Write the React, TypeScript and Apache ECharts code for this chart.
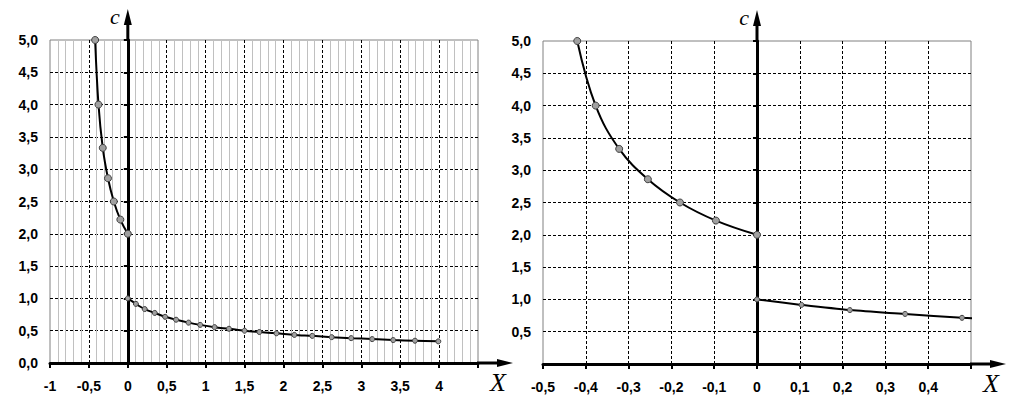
import React, { useEffect, useRef } from 'react';
import * as echarts from 'echarts';

// Left (negative) branch of c(X)
const branchNegX = [-0.42, -0.377, -0.322, -0.255, -0.18, -0.096, 0];
const branchNegC = [5.0, 4.0, 3.33, 2.86, 2.5, 2.22, 2.0];
// Right (positive) branch of c(X)
const branchPosX = [0, 0.104, 0.217, 0.346, 0.479, 0.62, 0.78, 0.93, 1.115, 1.3, 1.5, 1.69, 1.91, 2.14, 2.37, 2.62, 2.87, 3.14, 3.41, 3.69, 3.99];
const branchPosC = [1.0, 0.915, 0.835, 0.775, 0.715, 0.67, 0.625, 0.59, 0.555, 0.53, 0.5, 0.48, 0.46, 0.435, 0.42, 0.4, 0.385, 0.37, 0.355, 0.345, 0.335];

// Tick labels
const leftXLabels = ['-1', '-0,5', '0', '0,5', '1', '1,5', '2', '2,5', '3', '3,5', '4', ''];
const leftYLabels = ['0,0', '0,5', '1,0', '1,5', '2,0', '2,5', '3,0', '3,5', '4,0', '4,5', '5,0'];
const rightXLabels = ['-0,5', '-0,4', '-0,3', '-0,2', '-0,1', '0', '0,1', '0,2', '0,3', '0,4', ''];
const rightYLabels = ['', '0,5', '1,0', '1,5', '2,0', '2,5', '3,0', '3,5', '4,0', '4,5', '5,0'];

const AXIS_TITLE_Y = 'c';
const AXIS_TITLE_X = 'X';

const LABEL_FONT = '"Liberation Sans", Arial, sans-serif';
const TITLE_FONT = '"Liberation Serif", "Times New Roman", serif';

function zip(xs: number[], ys: number[]) {
  return xs.map((x, i) => [x, ys[i]]);
}

export default function App() {
  const ref = useRef<HTMLDivElement>(null);

  useEffect(() => {
    if (!ref.current) return;
    const chart = echarts.init(ref.current, undefined, { renderer: 'svg' });

    const labelStyle = {
      fontFamily: LABEL_FONT,
      fontWeight: 'bold' as const,
      fontSize: 14,
      color: '#000',
    };

    const makeX = (gridIndex: number, min: number, max: number, interval: number, labels: string[], minor: boolean) => ({
      type: 'value',
      gridIndex,
      min,
      max,
      interval,
      axisLine: { show: true, onZero: false, lineStyle: { color: '#000', width: 3 } },
      axisTick: { show: true, length: 5, lineStyle: { color: '#000', width: 2 } },
      axisLabel: { ...labelStyle, margin: 16, formatter: (_v: number, i: number) => labels[i] ?? '' },
      splitLine: { show: true, showMinLine: false, showMaxLine: false, lineStyle: { color: '#000', width: 1, type: [3, 2] } },
      minorTick: { show: false, splitNumber: 5 },
      minorSplitLine: { show: minor, lineStyle: { color: '#c0c0c0', width: 1 } },
    });

    const makeYLabels = (gridIndex: number, labels: string[]) => ({
      type: 'value',
      gridIndex,
      position: 'left',
      min: 0,
      max: 5,
      interval: 0.5,
      axisLine: { show: false, onZero: false },
      axisTick: { show: false },
      axisLabel: { ...labelStyle, margin: 12, formatter: (_v: number, i: number) => labels[i] ?? '' },
      splitLine: { show: true, showMinLine: false, showMaxLine: false, lineStyle: { color: '#000', width: 1, type: [3, 2] } },
    });

    const makeYZero = (gridIndex: number) => ({
      type: 'value',
      gridIndex,
      position: 'left',
      min: 0,
      max: 5,
      interval: 0.5,
      axisLine: { show: true, onZero: true, lineStyle: { color: '#000', width: 3 } },
      axisTick: { show: true, length: 4, lineStyle: { color: '#000', width: 2 } },
      axisLabel: { show: false },
      splitLine: { show: false },
    });

    const bigSym = { symbol: 'circle', symbolSize: 7, itemStyle: { color: '#a0a0a0', borderColor: '#404040', borderWidth: 1 } };
    const smallSym = { symbol: 'circle', symbolSize: 5, itemStyle: { color: '#a0a0a0', borderColor: '#404040', borderWidth: 1 } };
    const lineStyle = { color: '#000', width: 2 };

    const gridBase = { show: true, borderColor: '#808080', borderWidth: 1, backgroundColor: 'transparent', containLabel: false, outerBoundsMode: 'none' };

    chart.setOption({
      animation: false,
      backgroundColor: '#fff',
      grid: [
        { ...gridBase, left: 50, top: 40, width: 428, height: 323 },
        { ...gridBase, left: 543, top: 41, width: 428, height: 323 },
      ],
      xAxis: [
        makeX(0, -1, 4.5, 0.5, leftXLabels, true),
        makeX(1, -0.5, 0.5, 0.1, rightXLabels, false),
      ],
      yAxis: [
        makeYLabels(0, leftYLabels),
        makeYZero(0),
        makeYLabels(1, rightYLabels),
        makeYZero(1),
      ],
      series: [
        { type: 'line', xAxisIndex: 0, yAxisIndex: 0, data: zip(branchNegX, branchNegC), smooth: 0.4, lineStyle, ...bigSym, z: 5 },
        { type: 'line', xAxisIndex: 0, yAxisIndex: 0, data: zip(branchPosX, branchPosC), smooth: 0.3, lineStyle, ...smallSym, z: 5 },
        { type: 'line', xAxisIndex: 1, yAxisIndex: 2, data: zip(branchNegX, branchNegC), smooth: 0.4, lineStyle, ...bigSym, z: 5 },
        { type: 'line', xAxisIndex: 1, yAxisIndex: 2, data: zip(branchPosX, branchPosC), smooth: 0.3, lineStyle, ...smallSym, z: 5 },
      ],
    });

    const decor = (xi: number, yi: number, xMax: number) => {
      const top = chart.convertToPixel({ xAxisIndex: xi, yAxisIndex: yi }, [0, 5]) as number[];
      const right = chart.convertToPixel({ xAxisIndex: xi, yAxisIndex: yi }, [xMax, 0]) as number[];
      const x0 = top[0];
      const yT = top[1];
      const xR = right[0];
      const y0 = right[1];
      return [
        { type: 'line', z: 10, shape: { x1: x0, y1: yT + 1, x2: x0, y2: yT - 16 }, style: { stroke: '#000', lineWidth: 3 } },
        { type: 'polygon', z: 10, shape: { points: [[x0, yT - 31], [x0 - 4, yT - 15], [x0 + 4, yT - 15]] }, style: { fill: '#000' } },
        { type: 'line', z: 10, shape: { x1: xR - 1, y1: y0, x2: xR + 21, y2: y0 }, style: { stroke: '#000', lineWidth: 3 } },
        { type: 'polygon', z: 10, shape: { points: [[xR + 35, y0], [xR + 19, y0 - 4], [xR + 19, y0 + 4]] }, style: { fill: '#000' } },
        {
          type: 'text', z: 10, x: x0 - 13, y: yT - 24,
          style: { text: AXIS_TITLE_Y, fontFamily: TITLE_FONT, fontStyle: 'italic', fontSize: 22, fill: '#000', align: 'center', verticalAlign: 'middle' },
        },
        {
          type: 'text', z: 10, x: xR + 20, y: y0 + 19,
          style: { text: AXIS_TITLE_X, fontFamily: TITLE_FONT, fontStyle: 'italic', fontSize: 26, fill: '#000', align: 'center', verticalAlign: 'middle' },
        },
      ];
    };

    chart.setOption({ graphic: [...decor(0, 0, 4.5), ...decor(1, 2, 0.5)] });

    return () => chart.dispose();
  }, []);

  return (
    <div
      ref={ref}
      style={{ position: 'fixed', left: 0, top: 0, width: 1023, height: 409, background: '#fff' }}
    />
  );
}
